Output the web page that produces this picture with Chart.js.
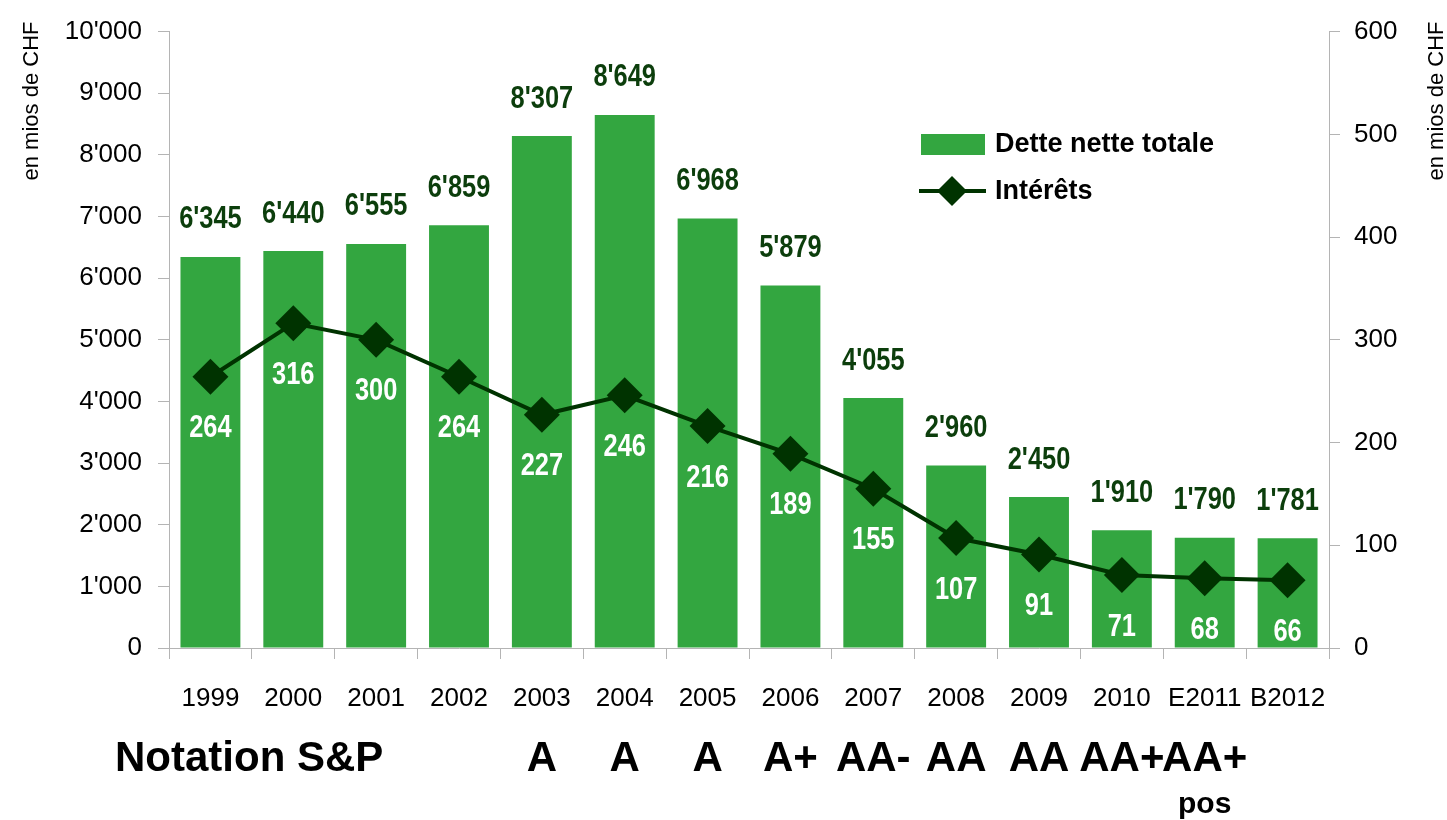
<!DOCTYPE html>
<html>
<head>
<meta charset="utf-8">
<script src="https://cdn.jsdelivr.net/npm/chart.js@4.4.0/dist/chart.umd.min.js"></script>
<style>
  html, body { margin: 0; padding: 0; background: #fff; }
  #wrap { width: 1447px; height: 820px; position: relative; }
</style>
</head>
<body>
<div id="wrap"><canvas id="chart_dette"></canvas></div>
<script>
const years = ['1999', '2000', '2001', '2002', '2003', '2004', '2005', '2006', '2007', '2008', '2009', '2010', 'E2011', 'B2012'];
const detteNette = [6345, 6440, 6555, 6859, 8307, 8649, 6968, 5879, 4055, 2960, 2450, 1910, 1790, 1781];
const interets = [264, 316, 300, 264, 227, 246, 216, 189, 155, 107, 91, 71, 68, 66];
const notations = ['', '', '', '', 'A', 'A', 'A', 'A+', 'AA-', 'AA', 'AA', 'AA+', 'AA+', ''];
const notationNotes = ['', '', '', '', '', '', '', '', '', '', '', '', 'pos', ''];

const GREEN = 'rgb(51,166,64)';
const DARK = 'rgb(0,51,0)';
const LABEL_DARK = 'rgb(12,62,12)';
const AXIS_GREY = '#b4b4b4';
const SANS = '"Liberation Sans", Arial, sans-serif';

function fmt(v) {
    return String(v).replace(/\B(?=(\d{3})+(?!\d))/g, "'");
}

// narrow-looking text: squeeze horizontally
function squeezed(ctx, text, x, y, k) {
    ctx.save();
    ctx.translate(x, y);
    ctx.scale(k, 1);
    ctx.fillText(text, 0, 0);
    ctx.restore();
}

// value labels, legend, axis titles and rating row
const extras = {
    id: 'extras',
    afterDatasetsDraw(chart) {
        const ctx = chart.ctx;
        ctx.save();
        ctx.textAlign = 'center';
        ctx.textBaseline = 'middle';
        ctx.font = 'bold 31px ' + SANS;

        ctx.fillStyle = LABEL_DARK;
        chart.getDatasetMeta(0).data.forEach((bar, i) => {
            squeezed(ctx, fmt(detteNette[i]), bar.x, bar.y - 37, 0.82);
        });
        ctx.fillStyle = '#fff';
        chart.getDatasetMeta(1).data.forEach((pt, i) => {
            squeezed(ctx, fmt(interets[i]), pt.x, pt.y + 52, 0.82);
        });
        ctx.restore();
    },
    afterDraw(chart) {
        const ctx = chart.ctx;
        const x = chart.scales.x;
        ctx.save();

        // legend
        ctx.fillStyle = GREEN;
        ctx.fillRect(921, 134, 64, 21);
        ctx.strokeStyle = DARK;
        ctx.lineWidth = 4;
        ctx.beginPath();
        ctx.moveTo(919, 191);
        ctx.lineTo(986, 191);
        ctx.stroke();
        ctx.fillStyle = DARK;
        ctx.beginPath();
        ctx.moveTo(952 - 15, 191);
        ctx.lineTo(952, 191 - 15);
        ctx.lineTo(952 + 15, 191);
        ctx.lineTo(952, 191 + 15);
        ctx.closePath();
        ctx.fill();
        ctx.fillStyle = '#000';
        ctx.font = 'bold 27px ' + SANS;
        ctx.textAlign = 'left';
        ctx.textBaseline = 'middle';
        ctx.fillText(chart.data.datasets[0].label, 995, 145);
        ctx.fillText(chart.data.datasets[1].label, 995, 192);

        // axis titles
        ctx.font = '22px ' + SANS;
        ctx.textAlign = 'center';
        [[32, 101], [1437, 101]].forEach(p => {
            ctx.save();
            ctx.translate(p[0], p[1]);
            ctx.rotate(-Math.PI / 2);
            ctx.fillText('en mios de CHF', 0, 0);
            ctx.restore();
        });

        // S&P ratings
        ctx.font = 'bold 42px ' + SANS;
        ctx.textAlign = 'left';
        ctx.fillText('Notation S&P', 115, 759);
        ctx.textAlign = 'center';
        notations.forEach((n, i) => {
            if (n) ctx.fillText(n, x.getPixelForValue(i), 759);
        });
        ctx.font = 'bold 30px ' + SANS;
        notationNotes.forEach((n, i) => {
            if (n) ctx.fillText(n, x.getPixelForValue(i), 805);
        });
        ctx.restore();
    }
};

const config_dette = {
    type: 'bar',
    data: {
        labels: years,
        datasets: [
            {
                type: 'bar',
                label: 'Dette nette totale',
                data: detteNette,
                backgroundColor: GREEN,
                yAxisID: 'y',
                barPercentage: 0.723,
                categoryPercentage: 1.0,
                order: 2
            },
            {
                type: 'line',
                label: 'Intérêts',
                data: interets,
                yAxisID: 'y1',
                borderColor: DARK,
                borderWidth: 4,
                pointStyle: 'rectRot',
                pointRadius: 18,
                pointBorderWidth: 0,
                pointBackgroundColor: DARK,
                pointBorderColor: DARK,
                tension: 0,
                order: 1
            }
        ]
    },
    options: {
        responsive: true,
        maintainAspectRatio: false,
        animation: false,
        layout: { padding: { top: 28, left: 0, right: 0, bottom: 0 } },
        plugins: {
            legend: { display: false },
            tooltip: { enabled: false }
        },
        scales: {
            x: {
                offset: true,
                grid: { offset: true, drawOnChartArea: false, tickLength: 11, color: AXIS_GREY },
                border: { color: AXIS_GREY },
                ticks: { color: '#000', padding: 24, maxRotation: 0, autoSkip: false, font: { family: SANS, size: 26 } },
                afterFit(scale) { scale.height = 172; }
            },
            y: {
                position: 'left',
                min: 0,
                max: 10000,
                grid: { drawOnChartArea: false, tickLength: 11, color: AXIS_GREY },
                border: { color: AXIS_GREY },
                ticks: { stepSize: 1000, color: '#000', padding: 16, font: { family: SANS, size: 26 }, callback: v => fmt(v) },
                afterFit(scale) { scale.width = 169; }
            },
            y1: {
                position: 'right',
                min: 0,
                max: 600,
                grid: { drawOnChartArea: false, tickLength: 11, color: AXIS_GREY },
                border: { color: AXIS_GREY },
                ticks: { stepSize: 100, color: '#000', padding: 14, font: { family: SANS, size: 26 } },
                afterFit(scale) { scale.width = 118; }
            }
        }
    },
    plugins: [extras]
};

const ctx_dette = document.getElementById('chart_dette').getContext('2d');
const myChart_dette = new Chart(ctx_dette, config_dette);
</script>
</body>
</html>
